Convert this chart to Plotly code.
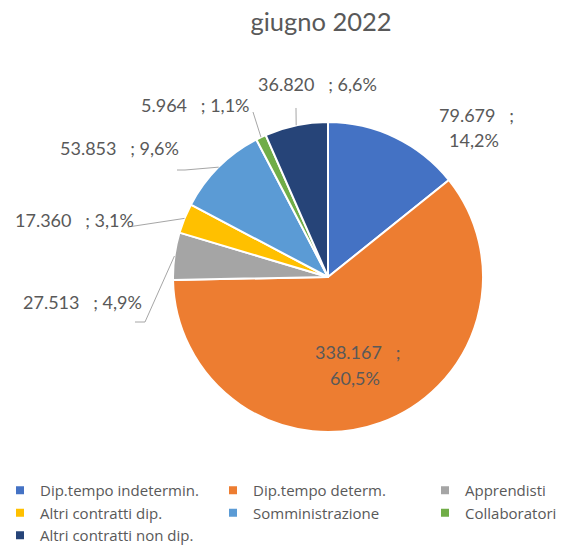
import math
import plotly.graph_objects as go

# ---- data ----
title_text = "giugno 2022"
categories = ["Dip.tempo indetermin.", "Dip.tempo determ.", "Apprendisti",
              "Altri contratti dip.", "Somministrazione", "Collaboratori",
              "Altri contratti non dip."]
values = [79679, 338167, 27513, 17360, 53853, 5964, 36820]
colors = ["#4472C4", "#ED7D31", "#A5A5A5", "#FFC000", "#5B9BD5", "#70AD47", "#264478"]

# ---- layout (pixels) ----
W, H = 564, 547
CX, CY, R = 328, 277, 155
FONT = "Lato, 'Liberation Sans', sans-serif"
LEG_FONT = "'Open Sans', Lato, sans-serif"
GREY = "#595959"

def px(x):
    return x / W

def py(y):
    return 1 - y / H

total = sum(values)
def fmt_val(v):
    return f"{v:,}".replace(",", ".")
def fmt_pct(v):
    return f"{v / total * 100:.1f}".replace(".", ",") + "%"

NB = "\u00a0"
# label placement (text centres in px); two-line labels use a list
label_pos = [
    [(476, 115), (474, 140)],
    [(357, 352), (355, 378)],
    [(82, 302)],
    [(74, 220)],
    [(119, 148)],
    [(195, 105)],
    [(317, 84)],
]
# leader-line start points (px) per slice; None = no leader
leader_start = [None, None, [(135, 322), (145, 322)], [(128, 227)],
                [(177, 170), (185, 170)], [(253, 112)], [(296, 108)]]

fig = go.Figure(go.Pie(
    labels=categories, values=values, sort=False, direction="clockwise",
    rotation=0, textinfo="none", hoverinfo="label+value+percent",
    marker=dict(colors=colors, line=dict(color="white", width=2)),
    domain=dict(x=[px(CX - R), px(CX + R)], y=[py(CY + R), py(CY - R)]),
    showlegend=False,
))

# legend entries laid out in three columns (legend, legend2, legend3)
legend_of = ["legend", "legend2", "legend3", "legend", "legend2", "legend3", "legend"]
for cat, col, lg in zip(categories, colors, legend_of):
    fig.add_trace(go.Scatter(
        x=[None], y=[None], mode="markers", name=cat, legend=lg,
        marker=dict(symbol="square", size=8, color=col), hoverinfo="skip",
    ))

annotations = []
shapes = []
cum = 0
for i, v in enumerate(values):
    mid = (cum + v / 2) / total * 2 * math.pi
    cum += v
    ax = CX + R * math.sin(mid)
    ay = CY - R * math.cos(mid)
    val_s = fmt_val(v) + NB * 3 + ";"
    pct_s = fmt_pct(v)
    pos = label_pos[i]
    if len(pos) == 2:
        texts = [val_s, pct_s]
    else:
        texts = [val_s + " " + pct_s]
    for (tx, ty), t in zip(pos, texts):
        annotations.append(dict(x=px(tx), y=py(ty), xref="paper", yref="paper",
                                text=t, showarrow=False, xanchor="center", yanchor="middle",
                                font=dict(family=FONT, size=18, color=GREY)))
    if leader_start[i]:
        pts = leader_start[i] + [(ax, ay)]
        path = "M " + " L ".join(f"{px(x):.5f},{py(y):.5f}" for x, y in pts)
        shapes.append(dict(type="path", path=path, xref="paper", yref="paper",
                           line=dict(color="#A6A6A6", width=1)))

legend_common = dict(orientation="v", yanchor="top", xanchor="left", y=py(474),
                     itemwidth=30, bgcolor="rgba(0,0,0,0)", traceorder="normal",
                     font=dict(family=LEG_FONT, size=15, color=GREY))
col_text_x = [40, 253, 465]

fig.update_layout(
    width=W, height=H,
    margin=dict(l=0, r=0, t=0, b=0, autoexpand=False),
    paper_bgcolor="white", plot_bgcolor="white",
    separators=",.",
    title=dict(text=title_text, x=px(321), xanchor="center", y=py(22), yanchor="middle",
               font=dict(family=FONT, size=25.5, color=GREY)),
    annotations=annotations,
    shapes=shapes,
    showlegend=True,
    xaxis=dict(visible=False),
    yaxis=dict(visible=False),
    legend=dict(x=px(col_text_x[0] - 40), **legend_common),
    legend2=dict(x=px(col_text_x[1] - 40), **legend_common),
    legend3=dict(x=px(col_text_x[2] - 40), **legend_common),
)

fig.write_html("out.html", config={"displayModeBar": False},
               post_script="document.body.style.margin='0';")
